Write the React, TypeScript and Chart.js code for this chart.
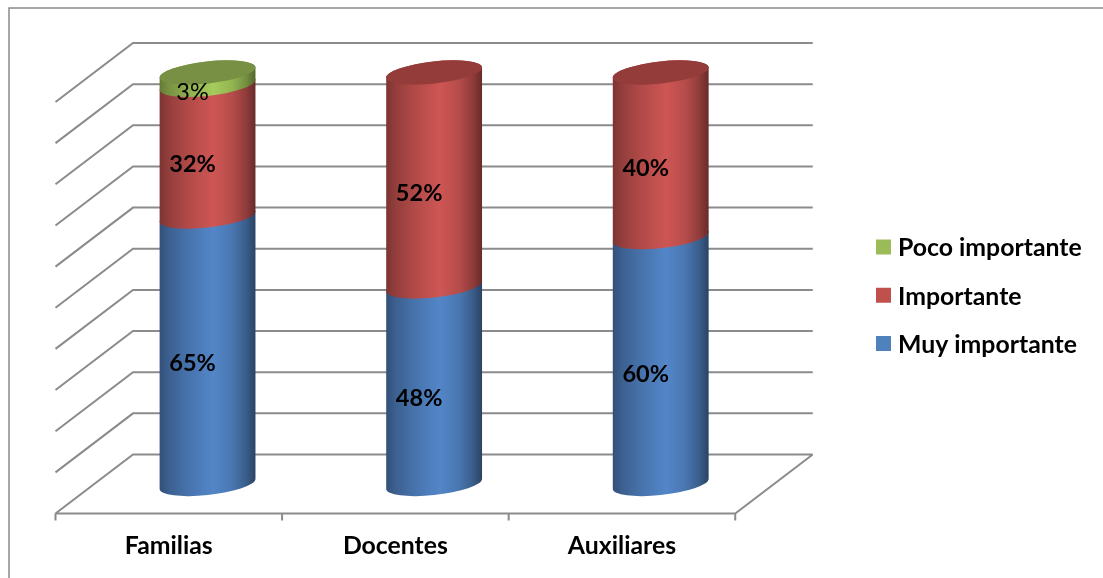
import React, { useEffect, useRef } from "react";
import { Chart, registerables } from "chart.js";

Chart.register(...registerables);

const categories = ["Familias", "Docentes", "Auxiliares"];
const muyImportante = [65, 48, 60];
const importante = [32, 52, 40];
const pocoImportante = [3, 0, 0];

const FONT = "Lato, Carlito, Calibri, sans-serif";
const GRID_COLOR = "#8b8b8b";

// Half of the oblique depth of the floor and walls.
const DEPTH_X = 38.75;
const DEPTH_Y = 29.5;

// Tilted ellipse used for every cylinder slice.
const RX = 48.2;
const RY = 11;
const TILT = -0.11;
const T0 = Math.atan2(-RY * Math.sin(TILT), RX * Math.cos(TILT));

const seriesStyle = [
  { label: "Muy importante", data: muyImportante, swatch: "#4f81bd", rgb: [83, 134, 200], cap: "#3f6797", weight: "bold" },
  { label: "Importante", data: importante, swatch: "#c0504d", rgb: [206, 86, 84], cap: "#943c3a", weight: "bold" },
  { label: "Poco importante", data: pocoImportante, swatch: "#9bbb59", rgb: [166, 204, 92], cap: "#779044", weight: "normal" },
];

// Light falloff across the curved side, from the left edge to the right edge.
const shadeStops: [number, number][] = [
  [0, 0.6],
  [0.1, 0.72],
  [0.3, 0.86],
  [0.56, 1],
  [0.76, 0.88],
  [0.9, 0.7],
  [1, 0.5],
];

function sideGradient(ctx: CanvasRenderingContext2D, left: number, right: number, rgb: number[]) {
  const g = ctx.createLinearGradient(left, 0, right, 0);
  for (const [offset, k] of shadeStops) {
    g.addColorStop(offset, `rgb(${rgb.map((c) => Math.round(c * k)).join(",")})`);
  }
  return g;
}

const wallsPlugin = {
  id: "walls",
  beforeDatasetsDraw(chart: any) {
    const { ctx, scales } = chart;
    const x = scales.x;
    const y = scales.y;
    const left = x.left;
    const right = x.right;
    ctx.save();

    // Outer frame: only its top and left edges fall inside the canvas
    ctx.strokeStyle = GRID_COLOR;
    ctx.lineWidth = 1.5;
    ctx.beginPath();
    ctx.moveTo(9, 578);
    ctx.lineTo(9, 8);
    ctx.lineTo(1103, 8);
    ctx.stroke();

    ctx.lineWidth = 2;
    ctx.beginPath();
    for (const tick of y.ticks) {
      const py = y.getPixelForValue(tick.value);
      ctx.moveTo(left - DEPTH_X, py + DEPTH_Y);
      ctx.lineTo(left + DEPTH_X, py - DEPTH_Y);
      ctx.lineTo(right + DEPTH_X, py - DEPTH_Y);
    }
    // Floor: front edge and right edge
    const base = y.getPixelForValue(0);
    ctx.moveTo(left - DEPTH_X, base + DEPTH_Y);
    ctx.lineTo(right - DEPTH_X, base + DEPTH_Y);
    ctx.lineTo(right + DEPTH_X, base - DEPTH_Y);
    // Category tick marks along the front edge
    const band = (right - left) / categories.length;
    for (let i = 0; i <= categories.length; i++) {
      const tx = left - DEPTH_X + band * i;
      ctx.moveTo(tx, base + DEPTH_Y);
      ctx.lineTo(tx, base + DEPTH_Y + 7);
    }
    ctx.stroke();
    ctx.restore();
  },
};

const cylinderPlugin = {
  id: "cylinders",
  afterDatasetsDraw(chart: any) {
    const { ctx } = chart;
    categories.forEach((_, i) => {
      let top: { cx: number; y: number; cap: string } | null = null;
      seriesStyle.forEach((series, s) => {
        if (!series.data[i]) return;
        const bar = chart.getDatasetMeta(s).data[i];
        const cx = bar.x;
        const half = bar.width / 2;
        ctx.save();
        ctx.beginPath();
        ctx.ellipse(cx, bar.base, RX, RY, TILT, T0, T0 + Math.PI, false);
        ctx.ellipse(cx, bar.y, RX, RY, TILT, T0 + Math.PI, T0 + 2 * Math.PI, false);
        ctx.closePath();
        ctx.fillStyle = sideGradient(ctx, cx - half, cx + half, series.rgb);
        ctx.fill();
        ctx.restore();
        top = { cx, y: bar.y, cap: series.cap };
      });
      if (top) {
        const t = top as { cx: number; y: number; cap: string };
        ctx.beginPath();
        ctx.ellipse(t.cx, t.y, RX, RY, TILT, 0, Math.PI * 2);
        ctx.fillStyle = t.cap;
        ctx.fill();
      }
    });
  },
  afterDraw(chart: any) {
    const { ctx } = chart;
    ctx.save();
    ctx.fillStyle = "#000";
    ctx.textAlign = "center";
    ctx.textBaseline = "middle";
    seriesStyle.forEach((series, s) => {
      ctx.font = `${series.weight} 23.5px ${FONT}`;
      series.data.forEach((value, i) => {
        if (!value) return;
        const bar = chart.getDatasetMeta(s).data[i];
        ctx.fillText(`${value}%`, bar.x - 15, (bar.y + bar.base) / 2 + 13.5);
      });
    });

    // Legend, last series on top
    ctx.textAlign = "left";
    ctx.font = `bold 24.8px ${FONT}`;
    [...seriesStyle].reverse().forEach((series, i) => {
      const cy = 247 + i * 48.25;
      ctx.fillStyle = series.swatch;
      ctx.fillRect(876, cy - 7.5, 15, 15);
      ctx.fillStyle = "#000";
      ctx.fillText(series.label, 898, cy + 1.5);
    });
    ctx.restore();
  },
};

export default function App() {
  const ref = useRef<HTMLCanvasElement>(null);
  useEffect(() => {
    const chart = new Chart(ref.current!, {
      type: "bar",
      data: {
        labels: categories,
        datasets: seriesStyle.map((s) => ({
          label: s.label,
          data: s.data,
          backgroundColor: "transparent",
          categoryPercentage: 1,
          barPercentage: 96 / 226.5,
        })),
      },
      options: {
        animation: false,
        responsive: false,
        layout: { padding: { left: 94.25, right: 329, top: 72.5, bottom: 4 } },
        plugins: { legend: { display: false }, tooltip: { enabled: false } },
        scales: {
          x: {
            stacked: true,
            grid: { display: false },
            border: { display: false },
            afterFit: (scale: any) => {
              scale.height = 90;
            },
            ticks: {
              color: "#000",
              font: { family: FONT, size: 24.8, weight: "bold" },
              labelOffset: -DEPTH_X,
              padding: 39,
              maxRotation: 0,
              autoSkip: false,
            },
          },
          y: {
            stacked: true,
            display: true,
            min: 0,
            max: 100,
            grid: { display: false },
            border: { display: false },
            afterFit: (scale: any) => {
              scale.width = 0;
            },
            ticks: { display: false, stepSize: 10 },
          },
        },
      },
      plugins: [wallsPlugin, cylinderPlugin],
    } as any);
    return () => chart.destroy();
  }, []);
  return (
    <div style={{ position: "absolute", left: 0, top: 0, width: 1103, height: 578, background: "#fff" }}>
      <canvas ref={ref} width={1103} height={578} style={{ display: "block" }} />
    </div>
  );
}
